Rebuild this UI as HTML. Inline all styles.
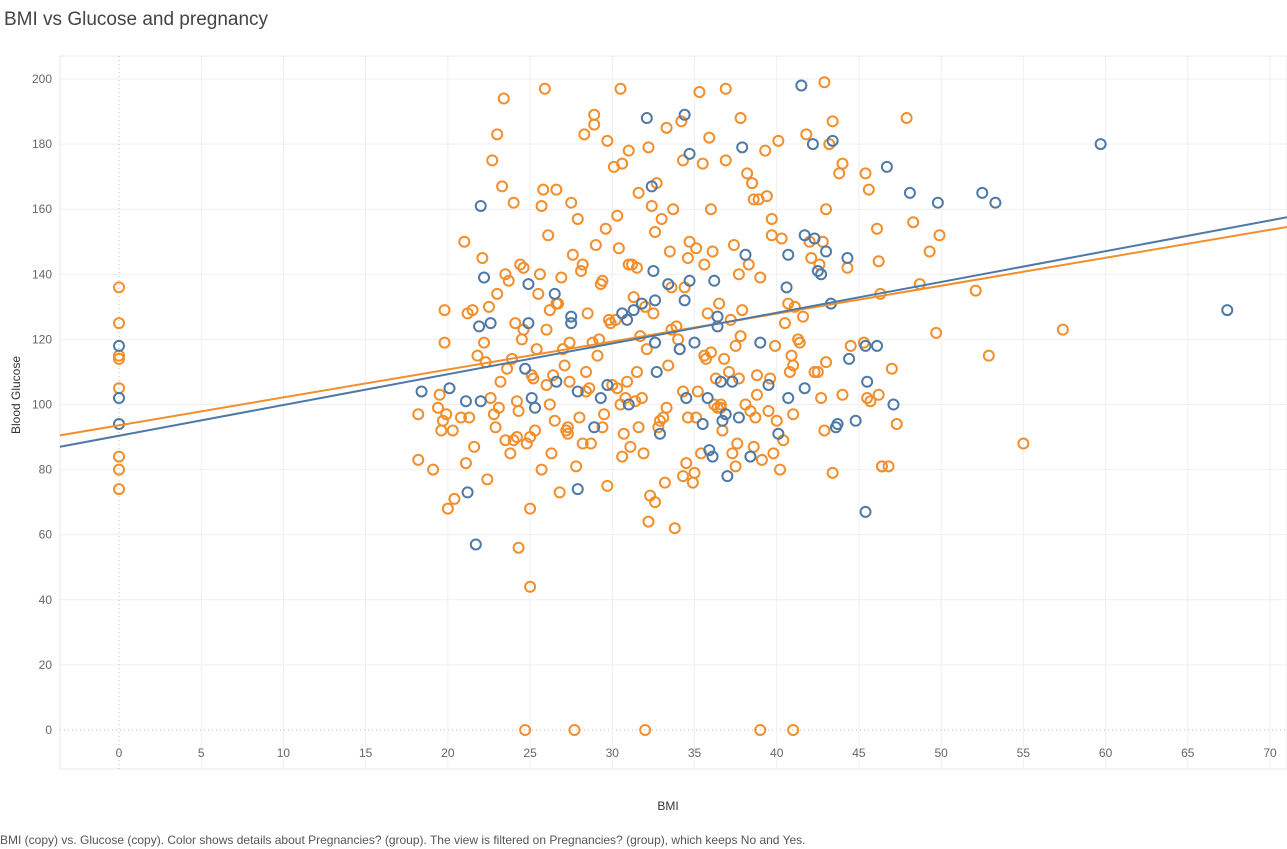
<!DOCTYPE html>
<html><head><meta charset="utf-8">
<style>
body{margin:0;background:#fff;font-family:"Liberation Sans",sans-serif;}
#wrap{position:relative;width:1287px;height:849px;overflow:hidden;}
#title{position:absolute;left:4px;top:9px;font-size:19px;color:#444;}
#foot{position:absolute;left:0;top:833px;font-size:12px;color:#555;white-space:nowrap;}
svg{position:absolute;left:0;top:0;}
</style></head><body>
<div id="wrap">
<div id="title">BMI vs Glucose and pregnancy</div>
<svg id="chart" width="1287" height="849"></svg>
<div id="foot">BMI (copy) vs. Glucose (copy).  Color shows details about Pregnancies? (group). The view is filtered on Pregnancies? (group), which keeps No and Yes.</div>
</div>
<script>
const xTicks=[0,5,10,15,20,25,30,35,40,45,50,55,60,65,70];
const yTicks=[0,20,40,60,80,100,120,140,160,180,200];
// trend line [intercept, slope] as shown in the view
const trendYes=[93.6,0.858];
const trendNo=[90.4,0.945];
const blueBMI=[0,0,0,18.4,20.1,21.1,21.2,21.7,22,22,22.2,21.9,22.6,24.7,24.9,24.9,25.1,25.3,26.5,26.6,27.5,27.5,27.9,27.9,28.9,29.3,29.7,30.6,30.9,31,31.3,31.8,32.1,32.4,32.5,32.6,32.6,32.7,32.9,33.4,34.1,34.4,34.7,34.7,34.5,34.4,35,35.5,35.8,35.9,36.1,36.2,36.4,36.4,36.6,36.7,36.9,37,37.3,37.7,37.9,38.1,38.4,39,39.5,40.1,40.6,40.7,40.7,41.5,41.7,41.7,42.2,42.3,42.5,42.7,43,43.3,43.4,43.6,43.7,44.3,44.4,44.8,45.4,45.5,45.4,46.1,46.7,47.1,48.1,49.8,52.5,53.3,59.7,67.4];
const blueGlu=[118,102,94,104,105,101,73,57,101,161,139,124,125,111,125,137,102,99,134,107,125,127,74,104,93,102,106,128,126,100,129,131,188,167,141,132,119,110,91,137,117,189,177,138,102,132,119,94,102,86,84,138,124,127,107,95,97,78,107,96,179,146,84,119,106,91,136,102,146,198,105,152,180,151,141,140,147,131,181,93,94,145,114,95,67,107,118,118,173,100,165,162,165,162,180,129];
const orBMI=[0,0,0,0,0,0,0,0,
18.2,18.2,19.1,19.4,19.5,19.6,19.7,19.8,19.8,19.9,
20.3,20.0,20.4,20.8,21.0,21.1,21.3,21.2,21.6,21.8,
22.1,22.3,22.5,22.6,22.7,22.9,23.0,23.2,23.4,23.3,
23.5,23.6,23.8,24.0,24.1,24.2,24.3,24.5,24.6,24.8,
25.2,25.4,25.6,25.8,25.9,26.0,26.1,26.3,26.4,26.6,
26.8,27.0,27.2,27.3,27.5,27.6,27.8,28.0,28.2,28.3,
28.5,28.7,28.9,29.1,29.2,29.4,29.6,29.8,30.0,30.1,
30.3,30.5,30.7,30.8,31.0,31.2,31.4,31.6,31.7,31.9,
32.1,32.3,32.5,32.7,32.8,33.0,33.2,33.4,33.6,33.8,
34.0,34.2,34.3,34.5,34.7,34.9,35.1,35.3,35.5,35.7,
35.9,36.1,36.3,36.5,36.7,36.9,37.1,37.3,37.5,37.7,
37.9,38.1,38.3,38.5,38.7,38.9,39.1,39.3,39.5,39.7,
39.9,40.2,40.5,40.8,41.1,41.4,41.8,42.1,42.5,42.9,
43.4,43.2,43.8,44.3,45.3,45.5,45.7,46.2,42.8,42.6,
45.6,45.4,46.1,46.4,46.8,47.0,46.2,46.3,47.9,48.3,
48.7,49.3,49.7,49.9,52.1,52.9,55.0,57.4,43.4,41.0,
24.7,27.7,32.0,39.0,41.0,24.3,25.0,25.0,42.9,44.0,
22.2,23.1,23.9,24.4,25.5,26.2,26.9,27.4,28.1,28.6,
29.3,29.9,30.4,30.9,31.5,32.0,32.6,33.1,33.7,34.1,
34.6,35.2,35.8,36.2,36.8,37.4,37.8,38.4,39.0,39.6,
40.3,40.9,41.6,42.3,43.0,44.0,21.5,22.8,23.7,24.6,
25.3,26.0,26.7,27.1,27.9,28.4,29.0,29.5,30.2,30.6,
31.3,31.8,32.4,32.9,33.5,33.9,34.4,35.0,35.6,36.0,
36.6,37.2,37.6,38.2,38.8,39.4,40.0,40.7,41.3,42.0,
42.7,22.4,23.5,24.2,25.0,25.7,26.5,27.4,28.2,28.8,
29.7,30.3,31.1,31.6,32.2,33.3,34.3,35.4,36.4,37.5,
38.6,39.8,41.0,23.0,24.0,25.1,26.2,27.3,28.4,29.4,
30.5,31.5,32.6,33.6,34.6,35.6,36.6,37.7,38.8,40.4,
25.7,26.6,28.9,29.7,30.6,31.0,32.2,33.3,34.3,35.1,
36.0,36.9,37.8,38.6,39.7,40.1,43.0,46.4,47.3,44.5];
const orGlu=[136,125,115,114,105,84,80,74,
97,83,80,99,103,92,95,119,129,97,
92,68,71,96,150,82,96,128,87,115,
145,113,130,102,175,93,183,107,194,167,
140,111,85,162,125,90,98,120,142,88,
108,117,140,166,197,123,152,85,109,166,
73,117,92,91,162,146,81,96,143,183,
128,88,189,115,120,93,154,126,106,173,
158,197,91,102,178,143,101,165,121,85,
117,72,128,168,93,157,76,112,136,62,
120,187,104,82,150,76,96,196,174,114,
182,147,108,131,92,197,110,85,118,140,
129,100,143,168,96,163,83,178,98,157,
118,80,125,110,130,119,183,145,110,92,
187,180,171,142,119,102,101,103,150,143,
166,171,154,81,81,111,144,134,188,156,
137,147,122,152,135,115,88,123,79,97,
0,0,0,0,0,56,44,68,199,174,
119,99,114,143,134,100,139,119,141,105,
137,125,148,107,142,130,153,96,160,117,
145,104,128,100,114,149,121,98,139,108,
151,115,127,110,113,103,129,97,138,123,
92,106,131,112,157,110,149,97,126,84,
133,102,161,95,147,124,136,79,143,116,
100,126,88,171,109,164,95,131,120,150,
102,77,89,101,90,80,95,107,88,119,
75,105,87,93,64,99,78,85,99,81,
87,85,112,134,89,109,129,93,104,138,
100,110,70,123,96,115,99,108,103,89,
161,131,186,181,174,143,179,185,175,148,
160,175,188,163,152,181,160,81,94,118];
const x0=60,x1=1287,yTop=56,yBot=769;
const xs=v=>119+v*16.443;
const ys=v=>730-v*3.255;
const svg=document.getElementById('chart');
const NS='http://www.w3.org/2000/svg';
function mk(t,a){const e=document.createElementNS(NS,t);for(const k in a)e.setAttribute(k,a[k]);svg.appendChild(e);return e;}
const fr=mk('rect',{x:x0,y:yTop,width:x1-x0,height:yBot-yTop,fill:'none',stroke:'#eaeaea'});


yTicks.forEach(t=>{
  const g=mk('line',{x1:x0,x2:x1,y1:ys(t),y2:ys(t),stroke:t===0?'#bbb':'#efefef','stroke-dasharray':t===0?'1,3':'none'});
  
  
  const l=mk('text',{x:52,y:ys(t)+4,'text-anchor':'end','font-size':12,fill:'#666'});
  l.textContent=t;
  
  
});
xTicks.forEach(t=>{
  const g=mk('line',{x1:xs(t),x2:xs(t),y1:yTop,y2:yBot,stroke:t===0?'#bbb':'#efefef','stroke-dasharray':t===0?'1,3':'none'});
  
  
  const l=mk('text',{x:xs(t),y:757,'text-anchor':'middle','font-size':12,fill:'#666'});
  l.textContent=t;
  
  
});
const xt=mk('text',{x:668,y:810,'text-anchor':'middle','font-size':12,fill:'#333'});
xt.textContent='BMI';


const yt=mk('text',{x:0,y:0,'text-anchor':'middle','font-size':12,fill:'#333',transform:'translate(20,395) rotate(-90)'});
yt.textContent='Blood Glucose';


function dots(bx,gy,col,name){
  bx.forEach((b,i)=>{
    const c=mk('circle',{cx:xs(b),cy:ys(gy[i]),r:5,fill:'none',stroke:col,'stroke-width':2});
    
    
  });
}
dots(orBMI,orGlu,'#f28e2b','point-yes');
dots(blueBMI,blueGlu,'#4e79a7','point-no');
function trend(p,col,name){
  const xa=(x0-119)/16.443,xb=(x1-119)/16.443;
  const l=mk('line',{x1:x0,y1:ys(p[0]+p[1]*xa),x2:x1,y2:ys(p[0]+p[1]*xb),stroke:col,'stroke-width':2});
  
  
}
trend(trendYes,'#f28e2b','trend-line-yes');
trend(trendNo,'#4e79a7','trend-line-no');
</script>
</body></html>
